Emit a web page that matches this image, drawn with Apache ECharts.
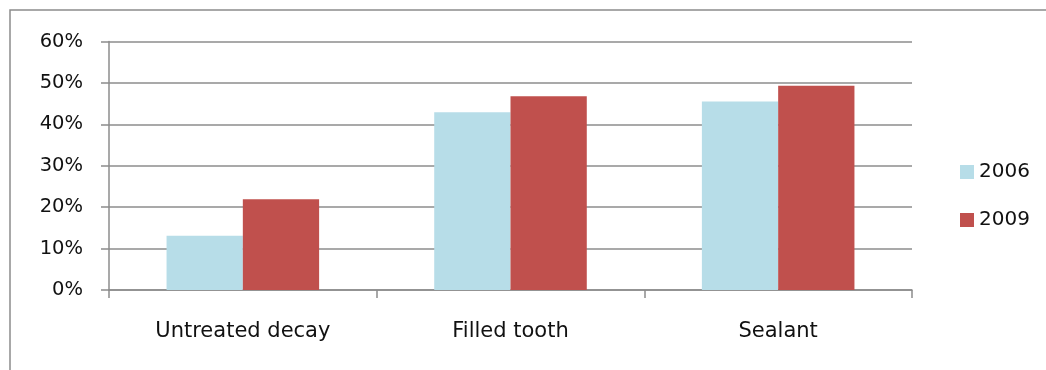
<!DOCTYPE html>
<html>
<head>
<meta charset="utf-8">
<script src="https://cdn.jsdelivr.net/npm/echarts@6/dist/echarts.min.js"></script>
<style>
  html, body { margin: 0; padding: 0; background: #fff; }
  #chart { width: 1046px; height: 370px; }
</style>
</head>
<body>
<div id="chart"></div>
<script>
// Dental outcomes, share of children (%)
const categories = ['Untreated decay', 'Filled tooth', 'Sealant'];
const values2006 = [13.1, 42.9, 45.5];
const values2009 = [21.9, 46.8, 49.3];
const seriesNames = ['2006', '2009'];

const FONT = '"DejaVu Sans", sans-serif';
const GRID_GRAY = '#8c8c8c';
const TEXT = '#111';

const chart = echarts.init(document.getElementById('chart'), null, { renderer: 'canvas' });
chart.setOption({
  backgroundColor: '#ffffff',
  animation: false,
  textStyle: { fontFamily: FONT },
  graphic: [{
    type: 'rect',
    shape: { x: 10, y: 10, width: 1060, height: 380 },
    style: { fill: 'none', stroke: GRID_GRAY, lineWidth: 1.5 },
    silent: true
  }],
  grid: { left: 109, right: 134, top: 41.5, bottom: 80 },
  legend: {
    orient: 'vertical',
    left: 955,
    top: 157,
    itemWidth: 14,
    itemHeight: 14,
    itemGap: 28,
    itemTextGap: 6,
    icon: 'rect',
    textStyle: { fontFamily: FONT, fontSize: 20, color: TEXT, lineHeight: 20 },
    data: seriesNames
  },
  xAxis: {
    type: 'category',
    data: categories,
    boundaryGap: true,
    axisLine: { lineStyle: { color: GRID_GRAY, width: 1.5 } },
    axisTick: { show: true, length: 8, lineStyle: { color: GRID_GRAY, width: 1.5 } },
    axisLabel: { fontFamily: FONT, fontSize: 21, color: TEXT, margin: 31 }
  },
  yAxis: {
    type: 'value',
    min: 0,
    max: 60,
    interval: 10,
    axisLine: { show: true, lineStyle: { color: GRID_GRAY, width: 1.5 } },
    axisTick: { show: true, length: 8, lineStyle: { color: GRID_GRAY, width: 1.5 } },
    splitLine: { lineStyle: { color: GRID_GRAY, width: 1.5 } },
    axisLabel: { fontFamily: FONT, fontSize: 19.5, color: TEXT, margin: 26, formatter: '{value}%' }
  },
  series: [
    {
      name: seriesNames[0],
      type: 'bar',
      data: values2006,
      barGap: '0%',
      barCategoryGap: '43%',
      itemStyle: { color: '#b7dde8' }
    },
    {
      name: seriesNames[1],
      type: 'bar',
      data: values2009,
      barGap: '0%',
      barCategoryGap: '43%',
      itemStyle: { color: '#c0504d' }
    }
  ]
});
</script>
</body>
</html>
